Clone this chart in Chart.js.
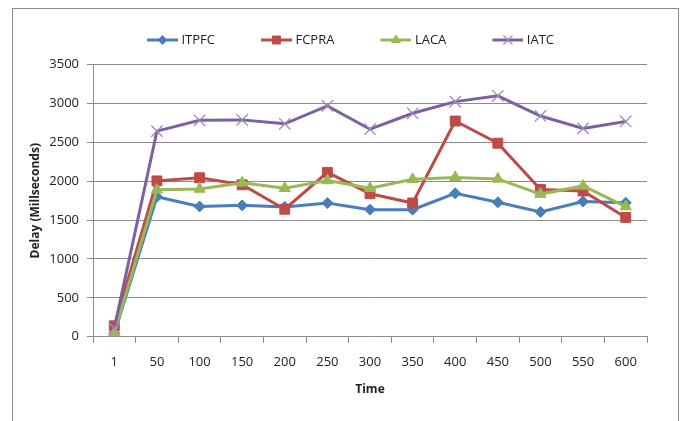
<!DOCTYPE html>
<html>
<head>
<meta charset="utf-8">
<script src="https://cdn.jsdelivr.net/npm/chart.js@4.4.1/dist/chart.umd.min.js"></script>
<style>
  html, body { margin: 0; padding: 0; background: #fff; }
  body { width: 683px; height: 421px; position: relative; overflow: hidden; }
  #frame { position: absolute; left: 12px; top: 8px; width: 665px; height: 440px; border: 1px solid #8c8c8c; }
  #chart { position: absolute; left: 0; top: 0; }
</style>
</head>
<body>
<div id="frame"></div>
<canvas id="chart" width="683" height="421"></canvas>
<script>
// Data
const times = ['1', '50', '100', '150', '200', '250', '300', '350', '400', '450', '500', '550', '600'];
const seriesNames = ['ITPFC', 'FCPRA', 'LACA', 'IATC'];
const itpfc = [40, 1800, 1675, 1690, 1670, 1720, 1635, 1635, 1845, 1730, 1605, 1740, 1725];
const fcpra = [140, 2005, 2045, 1955, 1640, 2115, 1840, 1720, 2775, 2490, 1895, 1875, 1535];
const laca = [50, 1890, 1900, 1980, 1910, 2010, 1910, 2025, 2050, 2030, 1835, 1940, 1675];
const iatc = [110, 2645, 2785, 2790, 2740, 2970, 2670, 2875, 3025, 3100, 2840, 2680, 2770];
const yTicks = [0, 500, 1000, 1500, 2000, 2500, 3000, 3500];

const seriesValues = [itpfc, fcpra, laca, iatc];

// Excel 2007 style series colours and markers
const styles = [
    { color: '#4A7EBB', point: 'rectRot', radius: 5.5, border: 1 },
    { color: '#BE4B48', point: 'rect', radius: 7, border: 1 },
    { color: '#98B954', point: 'triangle', radius: 6.5, border: 1 },
    { color: '#7D60A0', point: 'crossRot', radius: 8, border: 1.3, marker: '#9C88C0' }
];

const gridColor = '#8c8c8c';
const textColor = '#222';
Chart.defaults.font.family = "'Open Sans', 'DejaVu Sans', sans-serif";

// Legend swatch: a short line with the marker in the middle
const LEG_BOX = 64;
function legendImage(s) {
    const W = LEG_BOX + 6, H = 16;
    const cv = document.createElement('canvas');
    cv.width = W;
    cv.height = H;
    const g = cv.getContext('2d');
    g.strokeStyle = s.color;
    g.lineWidth = 3;
    g.beginPath();
    g.moveTo(W - 31, H / 2);
    g.lineTo(W, H / 2);
    g.stroke();
    g.fillStyle = s.marker || s.color;
    g.strokeStyle = s.marker || s.color;
    g.lineWidth = s.border;
    Chart.helpers.drawPoint(g, { pointStyle: s.point, radius: s.radius * 0.8, rotation: 0, borderWidth: s.border }, W - 15.5, H / 2);
    return cv;
}
const legendImages = styles.map(legendImage);

const datasets = seriesValues.map((vals, i) => ({
    label: seriesNames[i],
    data: vals,
    borderColor: styles[i].color,
    backgroundColor: styles[i].color,
    borderWidth: 3,
    pointStyle: styles[i].point,
    pointRadius: styles[i].radius,
    pointBorderWidth: styles[i].border,
    pointBackgroundColor: styles[i].marker || styles[i].color,
    pointBorderColor: styles[i].marker || styles[i].color,
    tension: 0,
    order: seriesNames.length - i
}));

new Chart(document.getElementById('chart'), {
    type: 'line',
    data: { labels: times, datasets: datasets },
    options: {
        responsive: false,
        animation: false,
        layout: { padding: { left: 18, right: 36, top: 23.5, bottom: 20 } },
        plugins: {
            tooltip: { enabled: false },
            legend: {
                position: 'top',
                labels: {
                    usePointStyle: true,
                    pointStyleWidth: LEG_BOX,
                    padding: 10,
                    color: textColor,
                    font: { size: 13 },
                    sort: (a, b) => a.datasetIndex - b.datasetIndex,
                    generateLabels(chart) {
                        const items = Chart.defaults.plugins.legend.labels.generateLabels(chart);
                        items.forEach(it => {
                            it.pointStyle = legendImages[it.datasetIndex];
                            it.rotation = 0;
                        });
                        return items;
                    }
                }
            }
        },
        scales: {
            x: {
                offset: true,
                grid: { offset: true, drawOnChartArea: false, tickLength: 6, color: gridColor },
                border: { color: gridColor },
                ticks: { padding: 12, color: textColor, font: { size: 13 }, maxRotation: 0, autoSkip: false },
                title: { display: true, text: 'Time', color: textColor, font: { size: 12, weight: 'bold' }, padding: { top: 4, bottom: 4 } },
                afterFit(scale) { scale.height = 64.3; }
            },
            xTop: {
                type: 'category',
                position: 'top',
                grid: { display: false },
                border: { display: false },
                ticks: { display: false },
                afterFit(scale) { scale.height = 8.2; }
            },
            y: {
                min: yTicks[0],
                max: yTicks[yTicks.length - 1],
                ticks: {
                    stepSize: yTicks[1] - yTicks[0],
                    padding: 8,
                    color: textColor,
                    font: { size: 13 },
                    callback: value => String(value)
                },
                grid: { color: gridColor, tickLength: 6 },
                border: { color: gridColor },
                title: { display: true, text: 'Delay (Millseconds)', color: textColor, font: { size: 12, weight: 'bold' }, padding: { top: 10, bottom: 0 } },
                afterFit(scale) { scale.width = 75; }
            }
        }
    }
});
</script>
</body>
</html>
